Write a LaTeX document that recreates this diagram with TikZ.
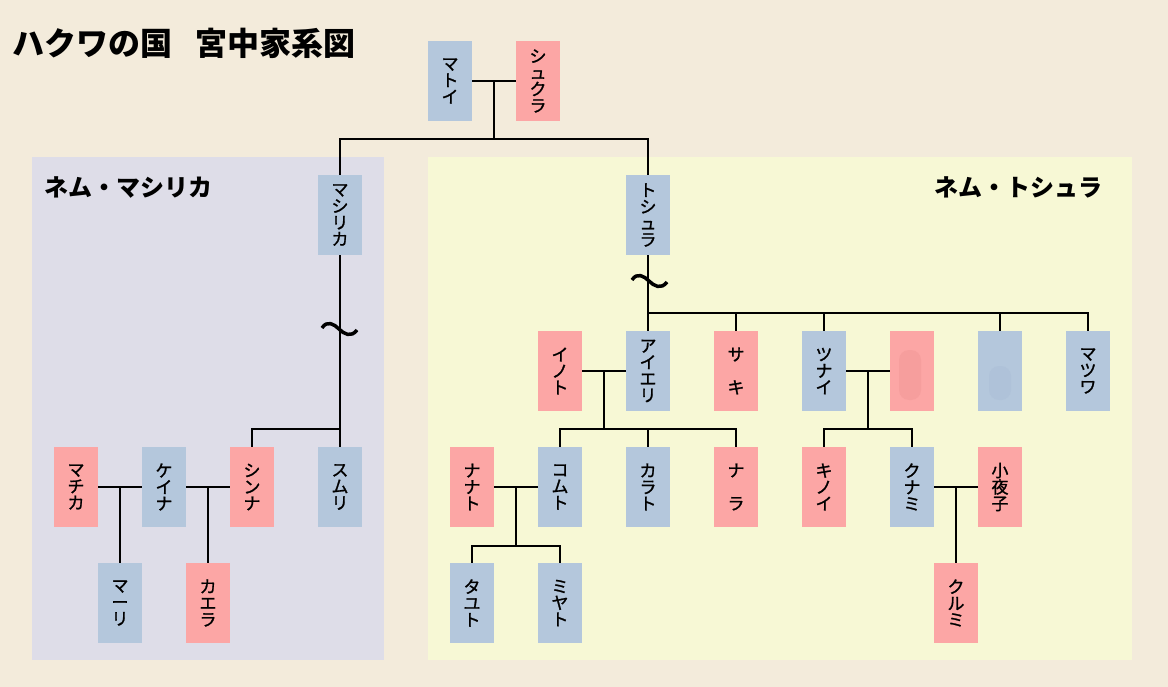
\documentclass[tikz,border=0pt]{standalone}
\usepackage{fontspec}
\newfontfamily\jp{Noto Sans CJK JP}
\newfontfamily\jpbox[FakeBold=1.2]{Noto Sans CJK JP}
\usetikzlibrary{calc}
\definecolor{bgbeige}{HTML}{F3EBDB}
\definecolor{leftpanel}{HTML}{DEDDE8}
\definecolor{rightpanel}{HTML}{F7F8D5}
\definecolor{boyblue}{HTML}{B4C7DC}
\definecolor{girlpink}{HTML}{FCA6A5}
\definecolor{pinkblur}{HTML}{F69E9D}
\definecolor{blueblur}{HTML}{AFC2D9}

\begin{document}
\begin{tikzpicture}[x=1pt,y=-1pt]
\useasboundingbox (0,0) rectangle (1168,687);
\fill[bgbeige] (0,0) rectangle (1168,687);
\fill[leftpanel] (32,157) rectangle (384,660);
\fill[rightpanel] (428,157) rectangle (1132,660);
 \tikzstyle{person}=[minimum width=44pt, minimum height=80pt, inner sep=0pt, align=center, font=\jpbox\fontsize{17}{16.5}\selectfont]
 \tikzstyle{man}=[person, fill=boyblue]
 \tikzstyle{woman}=[person, fill=girlpink]
 \tikzstyle{line}=[line width=1.8pt]
\node[anchor=west, font=\jp\bfseries\fontsize{32}{32}\selectfont](title) at (9,43){ハクワの国\hspace{23pt}宮中家系図};
\node[anchor=west, font=\jp\bfseries\fontsize{24}{24}\selectfont](house1) at (41,188){ネム・マシリカ};
\node[anchor=east, font=\jp\bfseries\fontsize{24}{24}\selectfont](house2) at (1106,187){ネム・トシュラ};
% first generation
\node[man](matoi) at (450,81){マ\\ト\\イ};
\node[woman](shukura) at (538,81){シ\\ュ\\ク\\ラ};
\node[man](mashirika) at (340,215){マ\\シ\\リ\\カ};
\node[man](toshura) at (648,215){ト\\シ\\ュ\\ラ};
% ネム・マシリカ
\node[woman](machika) at (76,487){マ\\チ\\カ};
\node[man](keina) at (164,487){ケ\\イ\\ナ};
\node[woman](shinna) at (252,487){シ\\ン\\ナ};
\node[man](sumuri) at (340,487){ス\\ム\\リ};
\node[man](mari) at (120,603){マ\\ー\\リ};
\node[woman](kaera) at (208,603){カ\\エ\\ラ};
% ネム・トシュラ
\node[woman](inoto) at (560,371){イ\\ノ\\ト};
\node[man](aieri) at (648,371){ア\\イ\\エ\\リ};
\node[woman](saki) at (736,371){サ\\\phantom{サ}\\キ};
\node[man](tsunai) at (824,371){ツ\\ナ\\イ};
\node[woman](wifeA) at (912,371){};
\node[man](sonB) at (1000,371){};
\node[man](matsuwa) at (1088,371){マ\\ツ\\ワ};
\node[woman](nanato) at (472,487){ナ\\ナ\\ト};
\node[man](komuto) at (560,487){コ\\ム\\ト};
\node[man](karato) at (648,487){カ\\ラ\\ト};
\node[woman](nara) at (736,487){ナ\\\phantom{ナ}\\ラ};
\node[woman](kinoi) at (824,487){キ\\ノ\\イ};
\node[man](kunami) at (912,487){ク\\ナ\\ミ};
\node[woman](sayoko) at (1000,487){小\\夜\\子};
\node[man](tayuto) at (472,603){タ\\ユ\\ト};
\node[man](miyato) at (560,603){ミ\\ヤ\\ト};
\node[woman](kurumi) at (956,603){ク\\ル\\ミ};
% blurred names
\fill[pinkblur, rounded corners=10pt] (899,350) rectangle (921,400);
\fill[blueblur, rounded corners=10pt] (989,366) rectangle (1011,400);
% bars
\coordinate (b0) at (494,139);
\coordinate (b1) at (340,429);
\coordinate (b2) at (648,313);
\coordinate (b3) at (604,429);
\coordinate (b4) at (868,429);
\coordinate (b5) at (516,546);
\draw[line] (matoi) -- (shukura);
\draw[line] ($(matoi)!.5!(shukura)$) -- (b0);
\draw[line] (mashirika.north) |- (b0) -| (toshura.north);
\draw[line] (mashirika) -- (sumuri);
\draw[line] (shinna.north) |- (b1);
\draw[line] (toshura) -- (b2);
\draw[line] (aieri.north) |- (b2) -| (matsuwa.north);
\foreach \n in {saki,tsunai,sonB}{\draw[line] (\n.north) -- (\n.north |- b2);}
% couples with one child
\foreach \a/\b/\c in {machika/keina/mari,keina/shinna/kaera,kunami/sayoko/kurumi}{\draw[line] (\a) -- (\b); \draw[line] ($(\a)!.5!(\b)$) -- (\c.north);}
% couples with several children
\foreach \a/\b/\j in {inoto/aieri/b3,tsunai/wifeA/b4,nanato/komuto/b5}{\draw[line] (\a) -- (\b); \draw[line] ($(\a)!.5!(\b)$) -- (\j);}
\draw[line] (komuto.north) |- (b3) -| (nara.north);
\draw[line] (karato.north) -- (karato.north |- b3);
\draw[line] (kinoi.north) |- (b4) -| (kunami.north);
\draw[line] (tayuto.north) |- (b5) -| (miyato.north);
% tildes
\foreach \cx/\cy in {339/329,649/281}{\draw[line width=3.5pt] (\cx-17,\cy-1) .. controls (\cx-12,\cy-9) and (\cx-5,\cy-5) .. (\cx,\cy) .. controls (\cx+5,\cy+5) and (\cx+12,\cy+9) .. (\cx+18,\cy+1);}
\end{tikzpicture}
\end{document}
